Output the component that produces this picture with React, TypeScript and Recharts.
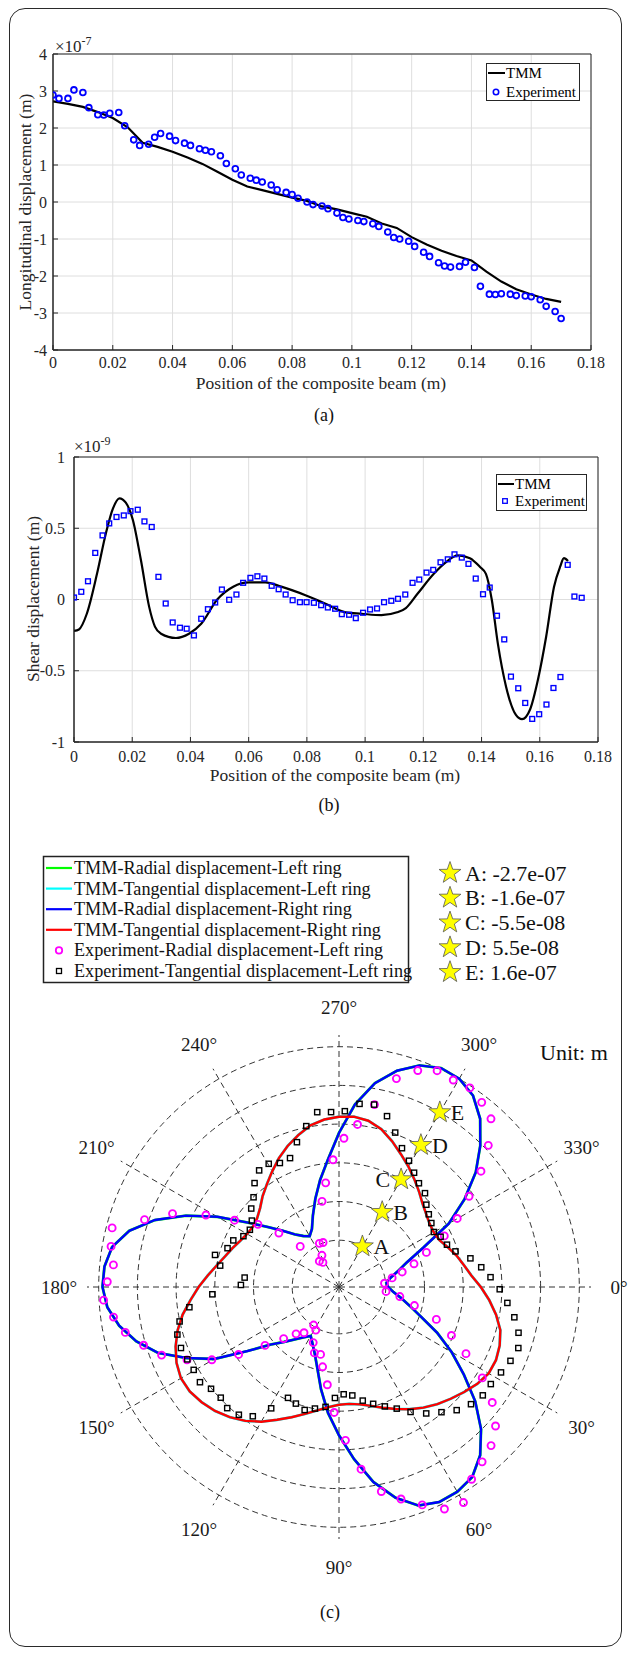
import React from 'react';
import {
  ComposedChart, Line, Scatter, XAxis, YAxis, CartesianGrid, ReferenceArea,
  RadarChart, Radar, PolarGrid, PolarAngleAxis, PolarRadiusAxis,
} from 'recharts';

const FONT = '"Liberation Serif", "DejaVu Serif", serif';

// ---------- (a) longitudinal displacement, values in 1e-7 m ----------
const posA = [0, 0.005, 0.01, 0.015, 0.02, 0.025, 0.03, 0.035, 0.04, 0.045, 0.05, 0.055, 0.06, 0.065, 0.07, 0.075, 0.08, 0.085, 0.09, 0.095, 0.1, 0.105, 0.11, 0.115, 0.12, 0.125, 0.13, 0.135, 0.14, 0.145, 0.15, 0.155, 0.16, 0.165, 0.17];
const tmmA = [2.72, 2.65, 2.57, 2.43, 2.27, 2.02, 1.6, 1.49, 1.36, 1.2, 1.03, 0.82, 0.6, 0.42, 0.32, 0.22, 0.12, 0.03, -0.12, -0.2, -0.3, -0.4, -0.58, -0.7, -0.95, -1.15, -1.32, -1.46, -1.58, -1.88, -2.15, -2.36, -2.5, -2.62, -2.7];
const expPosA = [0, 0.002, 0.005, 0.007, 0.01, 0.012, 0.015, 0.017, 0.019, 0.022, 0.024, 0.027, 0.029, 0.032, 0.034, 0.036, 0.039, 0.041, 0.044, 0.046, 0.049, 0.051, 0.053, 0.056, 0.058, 0.061, 0.063, 0.066, 0.068, 0.07, 0.073, 0.075, 0.078, 0.08, 0.082, 0.085, 0.087, 0.09, 0.092, 0.095, 0.097, 0.099, 0.102, 0.104, 0.107, 0.109, 0.112, 0.114, 0.116, 0.119, 0.121, 0.124, 0.126, 0.129, 0.131, 0.133, 0.136, 0.138, 0.141, 0.143, 0.146, 0.148, 0.15, 0.153, 0.155, 0.158, 0.16, 0.163, 0.165, 0.168, 0.17];
const expA = [2.89, 2.8, 2.8, 3.03, 2.96, 2.55, 2.36, 2.35, 2.4, 2.42, 2.06, 1.68, 1.53, 1.56, 1.75, 1.85, 1.78, 1.66, 1.59, 1.53, 1.44, 1.4, 1.36, 1.25, 1.04, 0.9, 0.73, 0.64, 0.59, 0.54, 0.46, 0.33, 0.26, 0.2, 0.1, 0, -0.07, -0.11, -0.18, -0.3, -0.42, -0.46, -0.5, -0.53, -0.59, -0.66, -0.81, -0.96, -1, -1.06, -1.2, -1.36, -1.47, -1.64, -1.73, -1.76, -1.74, -1.63, -1.77, -2.28, -2.49, -2.5, -2.48, -2.49, -2.53, -2.54, -2.56, -2.64, -2.82, -2.96, -3.15];
const ticksX = [0, 0.02, 0.04, 0.06, 0.08, 0.1, 0.12, 0.14, 0.16, 0.18];
const ticksYA = [-4, -3, -2, -1, 0, 1, 2, 3, 4];

// ---------- (b) shear displacement, values in 1e-9 m ----------
const posB = [0, 0.0017, 0.0044, 0.0079, 0.0109, 0.0134, 0.0156, 0.0178, 0.0202, 0.023, 0.0258, 0.0278, 0.0299, 0.035, 0.0395, 0.0437, 0.0492, 0.0547, 0.0602, 0.0657, 0.0712, 0.0795, 0.0864, 0.0933, 0.0988, 0.1056, 0.111, 0.114, 0.118, 0.1236, 0.1277, 0.1318, 0.136, 0.1394, 0.1415, 0.1435, 0.1456, 0.1484, 0.1518, 0.1539, 0.1567, 0.1594, 0.1622, 0.1649, 0.167, 0.1683, 0.1697];
const tmmB = [-0.22, -0.21, -0.1, 0.18, 0.46, 0.64, 0.71, 0.68, 0.56, 0.275, -0.05, -0.19, -0.24, -0.27, -0.24, -0.17, 0, 0.09, 0.12, 0.12, 0.09, 0.03, -0.03, -0.09, -0.1, -0.11, -0.09, -0.06, 0.04, 0.18, 0.26, 0.31, 0.29, 0.23, 0.18, 0, -0.31, -0.61, -0.81, -0.84, -0.77, -0.56, -0.26, 0.09, 0.23, 0.29, 0.27];
const expPosB = [0, 0.0025, 0.0048, 0.0073, 0.0098, 0.0121, 0.0146, 0.0171, 0.0194, 0.0219, 0.0242, 0.0267, 0.029, 0.0315, 0.0339, 0.0364, 0.0387, 0.0412, 0.0437, 0.046, 0.0485, 0.0508, 0.0533, 0.0558, 0.0581, 0.0606, 0.063, 0.0654, 0.0679, 0.0703, 0.0727, 0.0751, 0.0776, 0.0799, 0.0824, 0.0849, 0.0872, 0.0897, 0.092, 0.0945, 0.0968, 0.0993, 0.1017, 0.1041, 0.1065, 0.109, 0.1113, 0.1138, 0.1163, 0.1186, 0.1211, 0.1234, 0.1259, 0.1284, 0.1307, 0.1332, 0.1355, 0.138, 0.1405, 0.1428, 0.1453, 0.1478, 0.1501, 0.1526, 0.155, 0.1574, 0.1598, 0.1623, 0.1647, 0.1671, 0.1696, 0.1719, 0.1744];
const expB = [0.014, 0.054, 0.128, 0.327, 0.45, 0.534, 0.579, 0.59, 0.62, 0.63, 0.548, 0.509, 0.159, -0.028, -0.161, -0.198, -0.205, -0.252, -0.135, -0.068, -0.021, 0.07, -0.002, 0.035, 0.117, 0.152, 0.163, 0.147, 0.096, 0.072, 0.035, -0.005, -0.019, -0.019, -0.023, -0.04, -0.056, -0.065, -0.103, -0.107, -0.131, -0.093, -0.07, -0.063, -0.019, -0.009, 0.005, 0.035, 0.117, 0.14, 0.189, 0.208, 0.261, 0.282, 0.317, 0.294, 0.25, 0.147, 0.037, 0.084, -0.114, -0.28, -0.541, -0.623, -0.726, -0.838, -0.805, -0.737, -0.621, -0.544, 0.243, 0.021, 0.012];
const ticksYB = [-1, -0.5, 0, 0.5, 1];

// ---------- (c) polar plot, radius values in 1e-7 m ----------
const curveAngles = [0, 5, 10, 15, 20, 25, 30, 35, 40, 45, 50, 55, 60, 65, 70, 75, 80, 85, 90, 95, 100, 105, 110, 115, 120, 125, 130, 135, 140, 145, 150, 155, 160, 165, 170, 175, 180, 185, 190, 195, 200, 205, 210, 215, 220, 225, 230, 235, 240, 245, 250, 255, 260, 265, 270, 275, 280, 285, 290, 295, 300, 305, 310, 315, 320, 325, 330, 335, 340, 345, 350, 355];
const radialDisp = [-2.63, -2.49, -2.25, -1.96, -1.57, -0.99, -0.39, 0.23, 0.94, 1.58, 2.1, 2.45, 2.57, 2.59, 2.46, 2.06, 1.5, 0.8, 0.12, -0.49, -1.12, -1.67, -2.03, -2.26, -2.43, -2.29, -2.1, -1.84, -1.51, -0.9, 0, 0.67, 1.35, 1.83, 2.2, 2.46, 2.57, 2.54, 2.4, 2.03, 1.44, 0.69, -0.1, -0.87, -1.4, -1.79, -2.09, -2.27, -2.37, -2.22, -1.88, -1.46, -0.98, -0.45, 0.28, 1.09, 1.75, 2.22, 2.55, 2.71, 2.68, 2.49, 2.1, 1.55, 0.96, 0.26, -0.48, -1.42, -1.99, -2.31, -2.55, -2.68];
const tangentialDisp = [-0.06, 0.19, 0.43, 0.64, 0.75, 0.81, 0.8, 0.69, 0.54, 0.39, 0.25, 0.09, -0.08, -0.26, -0.43, -0.58, -0.69, -0.74, -0.73, -0.65, -0.52, -0.35, -0.15, 0.07, 0.32, 0.54, 0.72, 0.87, 0.98, 1.06, 1.07, 0.98, 0.83, 0.64, 0.41, 0.14, -0.1, -0.34, -0.55, -0.72, -0.85, -0.97, -1.05, -1.08, -1.03, -0.9, -0.7, -0.51, -0.29, -0.05, 0.17, 0.37, 0.56, 0.67, 0.73, 0.75, 0.69, 0.54, 0.31, 0.07, -0.14, -0.35, -0.54, -0.72, -0.84, -0.93, -0.96, -0.92, -0.78, -0.62, -0.48, -0.31];
const expRadAngle = [194.6, 190.1, 185.6, 181.3, 176.8, 199.1, 203.8, 208.4, 212.6, 217.7, 221.9, 226.3, 245.8, 250.3, 241.7, 232.7, 236.8, 258.8, 262.7, 267.3, 271.9, 276.5, 281, 285.4, 290, 294.4, 298.9, 303.3, 307.7, 312.1, 316.5, 320.8, 325.1, 329.9, 334.1, 338.4, 342.8, 346.6, 350.3, 355.3, 5.4, 8.9, 13.8, 18.4, 172.4, 168, 163.4, 159, 154.4, 150.2, 146.1, 141.7, 137, 132.5, 127.4, 123.7, 118.3, 114.9, 110.5, 105.3, 101.6, 96.8, 92.2, 87.6, 83.1, 78.3, 73.7, 69.1, 64.6, 60, 55.4, 50.7, 46.2, 41.6, 37, 32.4, 27.7, 23.3];
const expRadValue = [2.512, 2.431, 2.296, 2.438, 2.549, 1.716, 1.054, 0.203, -0.556, -1.154, -1.757, -2.441, -2.671, -2.687, -3, -3.099, -3.184, -1.575, -1.083, -0.461, 0.134, 0.544, 1.162, 2.004, 2.398, 2.598, 2.568, 2.619, 2.483, 2.297, 1.717, 1.089, 0.405, -0.204, -0.749, -1.389, -1.819, -2.196, -2.503, -2.731, -2.687, -2.29, -1.843, -1.15, 2.319, 2.068, 1.664, 1.278, 0.682, 0.07, -0.64, -1.382, -1.898, -2.235, -2.4, -2.729, -2.641, -2.298, -2.045, -2.059, -1.737, -1.266, -0.513, 0.264, 1.098, 1.801, 2.135, 2.479, 2.827, 2.914, 2.487, 2.276, 2.103, 1.815, 1.33, 0.713, -0.016, -0.599];
const expTanAngle = [262.9, 267.4, 271.9, 276.4, 280.9, 285.7, 290, 294.4, 299, 303.3, 307.6, 312.5, 316.7, 321, 325.3, 329.9, 333.7, 338.6, 343, 347.7, 352.1, 356.3, 0.8, 5.4, 9.8, 14.3, 18.8, 23.3, 27.8, 32.6, 37, 41.6, 46.3, 50.7, 55.4, 60.2, 64.6, 69, 73.7, 78.2, 83, 87.5, 92.1, 96.4, 101.2, 105.6, 110.3, 114.7, 119.2, 123.7, 128.1, 132.7, 136.9, 141.5, 145.6, 150.3, 154.5, 158.9, 163.6, 167.8, 172.3, 176.7, 181.2, 185.7, 190.2, 194.5, 199.2, 203.8, 208, 212.7, 217.3, 221.8, 226.4, 230.9, 235.6, 240.3, 244.5, 249.2, 253.8, 258.5];
const expTanValue = [0.894, 0.863, 0.886, 1.119, 1.16, 0.93, 0.565, 0.234, 0.01, -0.202, -0.362, -0.465, -0.667, -0.791, -0.88, -0.954, -0.852, -0.779, -0.617, -0.264, -0.011, 0.218, 0.465, 0.698, 0.943, 1.146, 1.262, 1.186, 1.087, 1.005, 1.001, 0.903, 0.732, 0.494, 0.267, 0, -0.26, -0.447, -0.619, -0.776, -0.965, -1.017, -0.915, -0.65, -0.558, -0.453, -0.547, -0.611, -0.139, 0.316, 0.509, 0.578, 0.499, 0.542, 0.681, 0.646, 0.668, 0.706, 0.68, 0.53, 0.194, -0.476, -1.274, -1.366, -0.646, -0.443, -0.721, -0.791, -0.993, -1.058, -0.956, -0.73, -0.558, -0.281, -0.074, -0.06, -0.184, -0.17, 0.189, 0.56];
const starNames = ['A', 'B', 'C', 'D', 'E'];
const starAngles = [300, 300, 300, 300, 300];
const starValues = [-2.7, -1.6, -0.55, 0.55, 1.6];
const starLabels = ['A: -2.7e-07', 'B: -1.6e-07', 'C: -5.5e-08', 'D: 5.5e-08', 'E: 1.6e-07'];
const angleTicks = [0, 30, 60, 90, 120, 150, 180, 210, 240, 270, 300, 330];
const ringTicks = [-2.7, -1.625, -0.55, 0.525, 1.6, 2.675];
const radiusDomain = [-3.775, 2.675];

const legendC = [
  { label: 'TMM-Radial displacement-Left ring', color: '#00ff00', kind: 'line' },
  { label: 'TMM-Tangential displacement-Left ring', color: '#00ffff', kind: 'line' },
  { label: 'TMM-Radial displacement-Right ring', color: '#0000ff', kind: 'line' },
  { label: 'TMM-Tangential displacement-Right ring', color: '#ff0000', kind: 'line' },
  { label: 'Experiment-Radial displacement-Left ring', color: '#ff00ff', kind: 'circle' },
  { label: 'Experiment-Tangential displacement-Left ring', color: '#000000', kind: 'square' },
];

const tmmAData = posA.map((x, i) => ({ x, y: tmmA[i] }));
const expAData = expPosA.map((x, i) => ({ x, y: expA[i] }));
const tmmBData = posB.map((x, i) => ({ x, y: tmmB[i] }));
const expBData = expPosB.map((x, i) => ({ x, y: expB[i] }));
const curveData = curveAngles.map((angle, i) => ({ angle, radial: radialDisp[i], tangential: tangentialDisp[i] }));
const radExpData = expRadAngle.map((angle, i) => ({ angle, value: expRadValue[i] }));
const tanExpData = expTanAngle.map((angle, i) => ({ angle, value: expTanValue[i] }));
const starData = starAngles.map((angle, i) => ({ angle, value: starValues[i], name: starNames[i] }));

const AX = '#262626';
const tickStyle = { fontSize: 16, fill: AX, fontFamily: FONT };

function starPoints(cx: number, cy: number, R: number, r: number) {
  const pts: string[] = [];
  for (let k = 0; k < 10; k++) {
    const rad = k % 2 === 0 ? R : r;
    const a = -Math.PI / 2 + (k * Math.PI) / 5;
    pts.push(`${cx + rad * Math.cos(a)},${cy + rad * Math.sin(a)}`);
  }
  return pts.join(' ');
}

const BlueCircle = (p: any) => <circle cx={p.cx} cy={p.cy} r={2.9} fill="none" stroke="#0000ff" strokeWidth={1.8} />;
const BlueSquare = (p: any) => <rect x={p.cx - 2.4} y={p.cy - 2.4} width={4.8} height={4.8} fill="none" stroke="#0000ff" strokeWidth={1.4} />;
const MagentaDot = (p: any) => <circle cx={p.cx} cy={p.cy} r={3.5} fill="none" stroke="#ff00ff" strokeWidth={1.9} />;
const BlackSquareDot = (p: any) => <rect x={p.cx - 2.6} y={p.cy - 2.6} width={5.2} height={5.2} fill="none" stroke="#000" strokeWidth={1.4} />;
const StarDot = (p: any) => {
  const name = starNames[p.index];
  const left = name === 'C';
  return (
    <g>
      <polygon points={starPoints(p.cx, p.cy, 11.5, 4.6)} fill="#ffff00" stroke="#555" strokeWidth={0.8} />
      <text x={left ? p.cx - 11 : p.cx + 11} y={p.cy} textAnchor={left ? 'end' : 'start'} dominantBaseline="central" fontSize={22} fontFamily={FONT} fill="#111">{name}</text>
    </g>
  );
};
const AngleTick = (p: any) => {
  const rad = (-p.payload.coordinate * Math.PI) / 180;
  return (
    <text x={p.x + 20 * Math.cos(rad)} y={p.y + 20 * Math.sin(rad)} textAnchor="middle" dominantBaseline="central" fontSize={19} fontFamily={FONT} fill="#1a1a1a">
      {`${p.payload.value}°`}
    </text>
  );
};

function PolarLayer({ data, grid, children }: any) {
  return (
    <div style={{ position: 'absolute', left: 0, top: 950 }}>
      <RadarChart width={629} height={660} data={data} cx={339} cy={337} outerRadius={252} startAngle={0} endAngle={-360}>
        {grid && <PolarGrid gridType="circle" stroke="#333" strokeDasharray="6 4" />}
        <PolarAngleAxis dataKey="angle" type="number" domain={[0, 360]} ticks={angleTicks} axisLine={false} tickLine={false} tickSize={8} tick={grid ? AngleTick : false} />
        <PolarRadiusAxis type="number" domain={radiusDomain} ticks={ringTicks} tick={false} axisLine={false} allowDataOverflow />
        {children}
      </RadarChart>
    </div>
  );
}

export default function App() {
  return (
    <div style={{ position: 'absolute', left: 0, top: 0, width: 629, height: 1656, background: '#fff', fontFamily: FONT }}>
      <div style={{ position: 'absolute', left: 9, top: 8, width: 611, height: 1637, border: '1.5px solid #2a2a2a', borderRadius: 16 }} />

      {/* (a) */}
      <div style={{ position: 'absolute', left: 0, top: 0 }}>
        <ComposedChart width={629} height={380} margin={{ top: 54, right: 38, bottom: 0, left: 0 }}>
          <CartesianGrid stroke="#dedede" />
          <XAxis type="number" dataKey="x" domain={[0, 0.18]} ticks={ticksX} height={30} stroke={AX} tickSize={-5} tickMargin={12} tick={tickStyle} allowDataOverflow />
          <YAxis type="number" dataKey="y" domain={[-4, 4]} ticks={ticksYA} width={53} stroke={AX} tickSize={-5} tickMargin={11} tick={tickStyle} allowDataOverflow />
          <ReferenceArea x1={0} x2={0.18} y1={-4} y2={4} fill="none" stroke={AX} strokeWidth={1} />
          <Line data={tmmAData} dataKey="y" type="linear" stroke="#000" strokeWidth={2.2} dot={false} isAnimationActive={false} />
          <Scatter data={expAData} dataKey="y" shape={BlueCircle} isAnimationActive={false} />
        </ComposedChart>
      </div>

      {/* (b) */}
      <div style={{ position: 'absolute', left: 0, top: 400 }}>
        <ComposedChart width={629} height={380} margin={{ top: 57, right: 31, bottom: 0, left: 0 }}>
          <CartesianGrid stroke="#dedede" />
          <XAxis type="number" dataKey="x" domain={[0, 0.18]} ticks={ticksX} height={38} stroke={AX} tickSize={-5} tickMargin={14} tick={tickStyle} allowDataOverflow />
          <YAxis type="number" dataKey="y" domain={[-1, 1]} ticks={ticksYB} width={74} stroke={AX} tickSize={-5} tickMargin={14} tick={tickStyle} allowDataOverflow />
          <ReferenceArea x1={0} x2={0.18} y1={-1} y2={1} fill="none" stroke={AX} strokeWidth={1} />
          <Line data={tmmBData} dataKey="y" type="monotone" stroke="#000" strokeWidth={2.2} dot={false} isAnimationActive={false} />
          <Scatter data={expBData} dataKey="y" shape={BlueSquare} isAnimationActive={false} />
        </ComposedChart>
      </div>

      {/* (c) */}
      <PolarLayer data={curveData} grid>
        <Radar dataKey="radial" stroke="#00ff00" strokeWidth={2.8} fill="none" fillOpacity={0} dot={false} isAnimationActive={false} />
        <Radar dataKey="tangential" stroke="#00ffff" strokeWidth={2.8} fill="none" fillOpacity={0} dot={false} isAnimationActive={false} />
        <Radar dataKey="radial" stroke="#0000ff" strokeWidth={2.4} fill="none" fillOpacity={0} dot={false} isAnimationActive={false} />
        <Radar dataKey="tangential" stroke="#ff0000" strokeWidth={2.4} fill="none" fillOpacity={0} dot={false} isAnimationActive={false} />
      </PolarLayer>
      <PolarLayer data={radExpData}>
        <Radar dataKey="value" stroke="none" fill="none" fillOpacity={0} dot={MagentaDot} isAnimationActive={false} />
      </PolarLayer>
      <PolarLayer data={tanExpData}>
        <Radar dataKey="value" stroke="none" fill="none" fillOpacity={0} dot={BlackSquareDot} isAnimationActive={false} />
      </PolarLayer>
      <PolarLayer data={starData}>
        <Radar dataKey="value" stroke="none" fill="none" fillOpacity={0} dot={StarDot} isAnimationActive={false} />
      </PolarLayer>

      <svg width={629} height={1656} style={{ position: 'absolute', left: 0, top: 0, pointerEvents: 'none' }} fontFamily={FONT}>
        {/* (a) annotations */}
        <text x={55} y={52} fontSize={17} fill={AX}>×10<tspan dy={-7} fontSize={12}>-7</tspan></text>
        <text x={25} y={202} transform="rotate(-90 25 202)" textAnchor="middle" dominantBaseline="central" fontSize={17.5} fill={AX}>Longitudinal displacement (m)</text>
        <text x={321} y={383} textAnchor="middle" dominantBaseline="central" fontSize={17.5} fill={AX}>Position of the composite beam (m)</text>
        <text x={324} y={415} textAnchor="middle" dominantBaseline="central" fontSize={18} fill="#111">(a)</text>
        <rect x={486.5} y={63.5} width={93} height={37} fill="#fff" stroke={AX} strokeWidth={1} />
        <line x1={488} x2={505} y1={73} y2={73} stroke="#000" strokeWidth={2} />
        <text x={506} y={73} dominantBaseline="central" fontSize={15} fill="#000">TMM</text>
        <circle cx={496} cy={92} r={2.7} fill="none" stroke="#0000ff" strokeWidth={1.6} />
        <text x={506} y={92} dominantBaseline="central" fontSize={15} fill="#000">Experiment</text>

        {/* (b) annotations */}
        <text x={74} y={452} fontSize={17} fill={AX}>×10<tspan dy={-7} fontSize={12}>-9</tspan></text>
        <text x={33} y={599} transform="rotate(-90 33 599)" textAnchor="middle" dominantBaseline="central" fontSize={17.5} fill={AX}>Shear displacement (m)</text>
        <text x={335} y={775} textAnchor="middle" dominantBaseline="central" fontSize={17.5} fill={AX}>Position of the composite beam (m)</text>
        <text x={329} y={805} textAnchor="middle" dominantBaseline="central" fontSize={18} fill="#111">(b)</text>
        <rect x={496.5} y={474.5} width={90} height={36} fill="#fff" stroke={AX} strokeWidth={1} />
        <line x1={498} x2={514} y1={484} y2={484} stroke="#000" strokeWidth={2} />
        <text x={515} y={484} dominantBaseline="central" fontSize={15} fill="#000">TMM</text>
        <rect x={502.7} y={498.7} width={4.6} height={4.6} fill="none" stroke="#0000ff" strokeWidth={1.3} />
        <text x={515} y={501} dominantBaseline="central" fontSize={15} fill="#000">Experiment</text>

        {/* (c) annotations */}
        <rect x={43.5} y={856.5} width={365} height={126} fill="#fff" stroke="#222" strokeWidth={1.5} />
        {legendC.map((e, i) => {
          const y = 868 + i * 20.6;
          return (
            <g key={e.label}>
              {e.kind === 'line' && <line x1={46} x2={72} y1={y} y2={y} stroke={e.color} strokeWidth={2.2} />}
              {e.kind === 'circle' && <circle cx={59} cy={y} r={3.2} fill="none" stroke={e.color} strokeWidth={1.8} />}
              {e.kind === 'square' && <rect x={56.5} y={y - 2.5} width={5} height={5} fill="none" stroke={e.color} strokeWidth={1.3} />}
              <text x={74} y={y} dominantBaseline="central" fontSize={18.2} fill="#111">{e.label}</text>
            </g>
          );
        })}
        {starLabels.map((s, i) => {
          const y = 873 + i * 24.8;
          return (
            <g key={s}>
              <polygon points={starPoints(450, y, 11.5, 4.6)} fill="#ffff00" stroke="#555" strokeWidth={0.8} />
              <text x={465} y={y} dominantBaseline="central" fontSize={22} fill="#111">{s}</text>
            </g>
          );
        })}
        <text x={540} y={1052} dominantBaseline="central" fontSize={22} fill="#111">Unit: m</text>
        <text x={330} y={1612} textAnchor="middle" dominantBaseline="central" fontSize={18} fill="#111">(c)</text>
      </svg>
    </div>
  );
}
